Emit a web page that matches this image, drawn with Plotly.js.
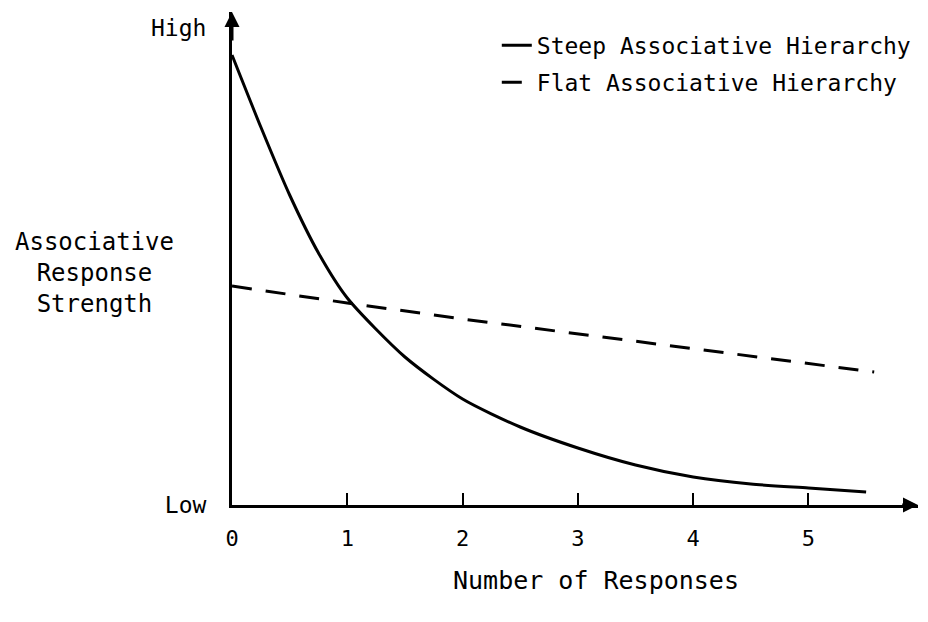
<!DOCTYPE html>
<html>
<head>
<meta charset="utf-8">
<script src="https://cdn.plot.ly/plotly-3.0.1.min.js"></script>
<style>html,body{margin:0;padding:0;background:#fff;}#chart{width:928px;height:622px;}</style>
</head>
<body>
<div id="chart"></div>
<script>
// Number of responses (x) and associative response strength (y, arbitrary units above "Low")
const steepX = [0, 0.25, 0.5, 0.75, 1, 1.5, 2, 2.5, 3, 3.5, 4, 4.5, 5, 5.5];
const steepY = [450, 378, 310, 252, 207, 148, 106, 78, 57, 40, 28, 21, 17, 13];
const flatX = [0, 1, 2, 3, 4, 5, 5.57];
const flatY = [219, 202, 186, 171, 156, 141, 133];
const xTickVals = [0, 1, 2, 3, 4, 5];
const xTickText = ['0', '1', '2', '3', '4', '5'];
const yTickVals = [0, 477];
const yTickText = ['Low', 'High'];
const seriesNames = ['Steep Associative Hierarchy', 'Flat Associative Hierarchy'];
const xTitle = 'Number of Responses';
const yTitle = 'Associative<br>Response<br>Strength';

const FONT = 'DejaVu Sans Mono, monospace';

const traces = [
  {x: steepX, y: steepY, name: seriesNames[0], legendgroup: 'a', mode: 'lines', type: 'scatter',
   line: {color: '#000', width: 3, shape: 'spline', smoothing: 0.7}, cliponaxis: false},
  {x: flatX, y: flatY, name: seriesNames[1], legendgroup: 'b', mode: 'lines', type: 'scatter',
   line: {color: '#000', width: 3, dash: '20px,14px'}, cliponaxis: false}
];

const layout = {
  width: 928, height: 622,
  margin: {l: 232, r: 10, t: 12, b: 117},
  paper_bgcolor: '#fff', plot_bgcolor: '#fff',
  font: {family: FONT, size: 22, color: '#000'},
  showlegend: true,
  legend: {x: 0.386, y: 0.976, xanchor: 'left', yanchor: 'top', bgcolor: 'rgba(0,0,0,0)',
           traceorder: 'grouped', tracegroupgap: 4,
           font: {family: FONT, size: 23, color: '#000'}},
  xaxis: {
    range: [0, 5.95], showgrid: false, zeroline: false,
    showline: true, linecolor: '#000', linewidth: 3,
    tickvals: xTickVals, ticktext: xTickText,
    ticks: 'inside', ticklen: 12, tickwidth: 2, tickcolor: '#000',
    ticklabelstandoff: 12,
    tickfont: {family: FONT, size: 22}
  },
  yaxis: {
    range: [0, 493], showgrid: false, zeroline: false,
    showline: true, linecolor: '#000', linewidth: 3,
    tickvals: yTickVals, ticktext: yTickText, ticks: '',
    ticklabelstandoff: 18,
    tickfont: {family: FONT, size: 23}
  },
  annotations: [
    {xref: 'paper', yref: 'paper', x: -0.2, y: 0.47, xanchor: 'center', yanchor: 'middle',
     text: yTitle, showarrow: false, align: 'center',
     font: {family: FONT, size: 24, color: '#000'}},
    {xref: 'paper', yref: 'paper', x: 0.53, y: -0.154, xanchor: 'center', yanchor: 'middle',
     text: xTitle, showarrow: false,
     font: {family: FONT, size: 25, color: '#000'}},
    {x: 5.95, y: 0, ax: 5.8, ay: 0, axref: 'x', ayref: 'y', xref: 'x', yref: 'y', text: '',
     showarrow: true, arrowhead: 2, arrowsize: 1, arrowwidth: 3, arrowcolor: '#000'},
    {x: 0, y: 493, ax: 0, ay: 463, axref: 'x', ayref: 'y', xref: 'x', yref: 'y', text: '',
     showarrow: true, arrowhead: 2, arrowsize: 1, arrowwidth: 3, arrowcolor: '#000'}
  ]
};

Plotly.newPlot('chart', traces, layout, {displayModeBar: false, staticPlot: true});
</script>
</body>
</html>
